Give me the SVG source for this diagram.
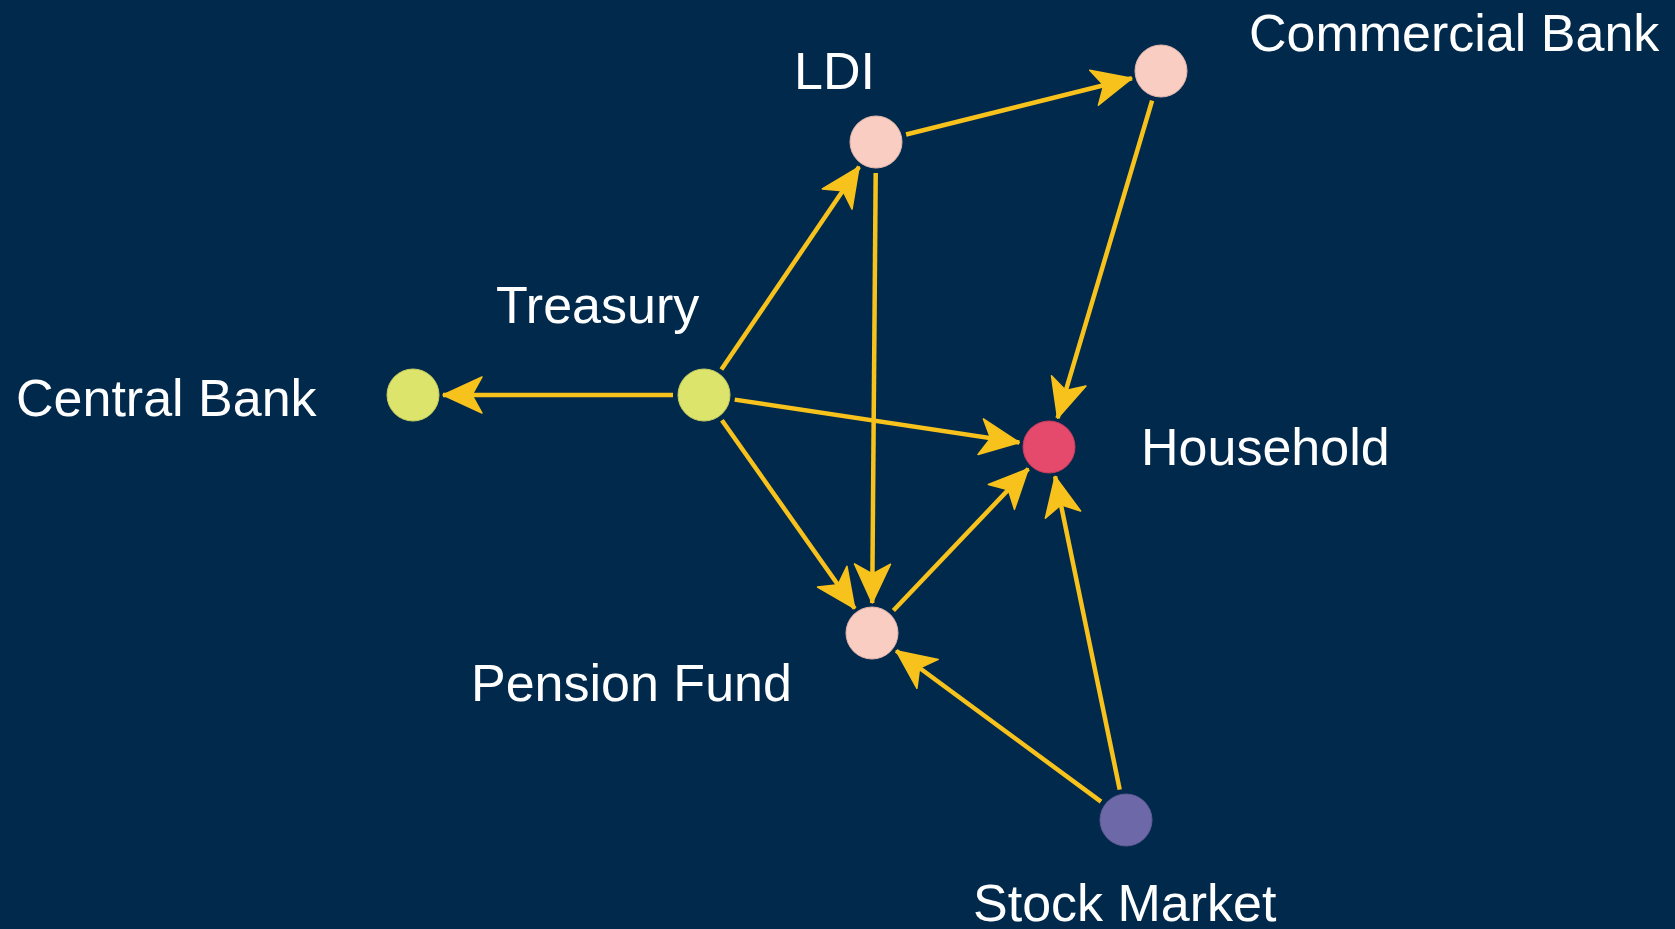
<svg xmlns="http://www.w3.org/2000/svg" width="1675" height="929" viewBox="0 0 1675 929">
  <style>
    .bg { fill: #00294c; }
    .edge { stroke: #f8c21c; stroke-width: 4.5; fill: none; marker-end: url(#arrow); }
    .label { font-family: "Liberation Sans", Arial, sans-serif; font-size: 52px; fill: #ffffff; }
    .node { stroke-width: 1; }
    .pink { fill: #f9cdc2; stroke: #e3b6ac; }
    .lime { fill: #dde46b; stroke: #c6cc5e; }
    .red { fill: #e5496b; stroke: #c93d5d; }
    .purple { fill: #6d69a8; stroke: #5f5b96; }
  </style>
  <defs>
    <!-- concave-backed arrowhead, tip at the path end -->
    <marker id="arrow" markerUnits="userSpaceOnUse" viewBox="-42 -20 43 40" refX="0" refY="0" markerWidth="43" markerHeight="40" orient="auto">
      <path d="M0,0 L-39,-18 L-29,0 L-39,18 Z" fill="#f8c21c" stroke="#f8c21c" stroke-width="1.5" stroke-linejoin="round"/>
    </marker>
  </defs>

  <rect class="bg" x="0" y="0" width="1675" height="929"/>

  <!-- connectors -->
  <g id="edges">
    <line class="edge" x1="673" y1="395" x2="443" y2="395"/>
    <line class="edge" x1="721.4" y1="369.4" x2="859.1" y2="166.8"/>
    <line class="edge" x1="734.7" y1="399.6" x2="1019.3" y2="442.5"/>
    <line class="edge" x1="721.9" y1="420.3" x2="854.7" y2="608.5"/>
    <line class="edge" x1="906.1" y1="134.5" x2="1131.9" y2="78.3"/>
    <line class="edge" x1="875.7" y1="173" x2="872.2" y2="603"/>
    <line class="edge" x1="1152.1" y1="100.7" x2="1057.6" y2="418.2"/>
    <line class="edge" x1="893.4" y1="610.5" x2="1028.3" y2="468.7"/>
    <line class="edge" x1="1101" y1="801.6" x2="896.2" y2="650.8"/>
    <line class="edge" x1="1119.7" y1="789.6" x2="1055.1" y2="476.4"/>
  </g>

  <!-- nodes -->
  <g id="central-bank">
    <circle class="node lime" cx="413" cy="395" r="26"/>
    <text class="label" x="16" y="416">Central Bank</text>
  </g>
  <g id="treasury">
    <circle class="node lime" cx="704" cy="395" r="26"/>
    <text class="label" x="496" y="323">Treasury</text>
  </g>
  <g id="ldi">
    <circle class="node pink" cx="876" cy="142" r="26"/>
    <text class="label" x="794" y="89">LDI</text>
  </g>
  <g id="commercial-bank">
    <circle class="node pink" cx="1161" cy="71" r="26"/>
    <text class="label" x="1249" y="51">Commercial Bank</text>
  </g>
  <g id="household">
    <circle class="node red" cx="1049" cy="447" r="26"/>
    <text class="label" x="1141" y="465">Household</text>
  </g>
  <g id="pension-fund">
    <circle class="node pink" cx="872" cy="633" r="26"/>
    <text class="label" x="471" y="701">Pension Fund</text>
  </g>
  <g id="stock-market">
    <circle class="node purple" cx="1126" cy="820" r="26"/>
    <text class="label" x="973" y="921">Stock Market</text>
  </g>
</svg>
